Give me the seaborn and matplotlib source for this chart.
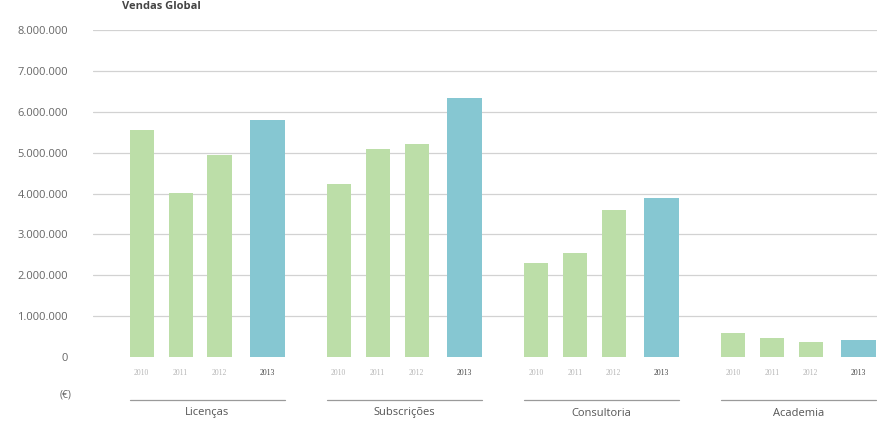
import matplotlib
matplotlib.use("Agg")
import matplotlib.pyplot as plt
import matplotlib.transforms as mtransforms
import seaborn as sns
import pandas as pd

categorias = ["Licenças", "Subscrições", "Consultoria", "Academia"]
anos = ["2010", "2011", "2012", "2013"]
vendas_2010 = [5550000, 4230000, 2300000, 590000]
vendas_2011 = [4010000, 5090000, 2540000, 460000]
vendas_2012 = [4940000, 5210000, 3590000, 370000]
vendas_2013 = [5790000, 6330000, 3890000, 420000]
y_ticks = [0, 1000000, 2000000, 3000000, 4000000, 5000000, 6000000, 7000000, 8000000]

series = [vendas_2010, vendas_2011, vendas_2012, vendas_2013]
rows = []
for ano, vals in zip(anos, series):
    for cat, v in zip(categorias, vals):
        rows.append({"Categoria": cat, "Ano": ano, "Vendas": v})
df = pd.DataFrame(rows)

sns.set_style("white")
plt.rcParams["font.family"] = ["Open Sans", "DejaVu Sans"]

green = "#bcdea8"
blue = "#86c7d2"

fig = plt.figure(figsize=(8.78, 4.34), dpi=100)
ax = fig.add_axes([93 / 878, 1 - 357 / 434, 1 - 93 / 878, (357 - 30) / 434])

sns.barplot(data=df, x="Categoria", y="Vendas", hue="Ano", order=categorias,
            hue_order=anos, palette=[green, green, green, blue], width=0.79,
            legend=False, ax=ax, saturation=1)

# adjust bar widths: narrower bars, wider 2013 bar shifted right
for i, cont in enumerate(ax.containers):
    for p in cont.patches:
        c = p.get_x() + p.get_width() / 2
        if i == 3:
            w = 0.178
            c += 0.046
        else:
            w = 0.122
        p.set_width(w)
        p.set_x(c - w / 2)
        p.set_edgecolor("none")

ax.set_xlim(-0.543, 3.44)
ax.set_ylim(0, 8000000)
ax.set_yticks(y_ticks)
ax.set_yticklabels([f"{v:,}".replace(",", ".") for v in y_ticks], color="#666666", fontsize=8)
ax.tick_params(axis="y", length=0, pad=18)
ax.set_xticks([])
ax.set_xlabel("")
ax.set_ylabel("")
for s in ax.spines.values():
    s.set_visible(False)
for v in y_ticks[1:]:
    ax.axhline(v, color="#d2d2d2", lw=0.9, zorder=0)

# year labels under bars
trans = mtransforms.blended_transform_factory(ax.transData, fig.transFigure)
for i, cont in enumerate(ax.containers):
    for p in cont.patches:
        c = p.get_x() + p.get_width() / 2
        col = "#444444" if i == 3 else "#b5b5b5"
        ax.text(c, 1 - 373 / 434, anos[i], transform=trans, ha="center", va="center",
                fontsize=5.5, color=col, family=["Liberation Serif", "DejaVu Serif"])

# group lines and labels
line_y = 1 - 400 / 434
for j, cat in enumerate(categorias):
    x0 = ax.containers[0].patches[j].get_x()
    p3 = ax.containers[3].patches[j]
    x1 = p3.get_x() + p3.get_width()
    ax.plot([x0, x1], [line_y, line_y], transform=trans, color="#9a9a9a", lw=0.9,
            clip_on=False)
    ax.text((x0 + x1) / 2, 1 - 413 / 434, cat, transform=trans, ha="center", va="center",
            fontsize=8, color="#555555")

fig.text(66 / 878, 1 - 395 / 434, "(€)", ha="center", va="center", fontsize=7.5, color="#666666")
fig.text(122 / 878, 0.998, "Vendas Global", ha="left", va="top", fontsize=8,
         fontweight="bold", color="#444444")

fig.savefig("out.png", dpi=100)
